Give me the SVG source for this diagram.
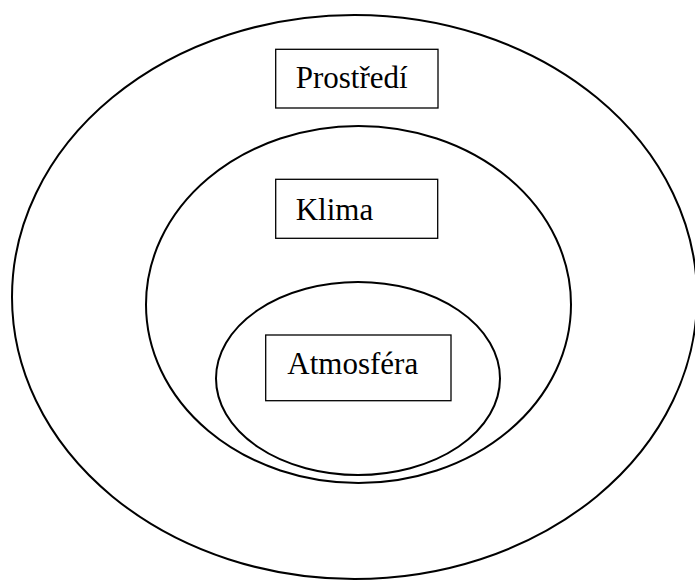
<svg xmlns="http://www.w3.org/2000/svg" width="695" height="581" viewBox="0 0 695 581">
<style>
.ring{fill:none;stroke:#000;stroke-width:2}
.box{fill:#fff;stroke:#000;stroke-width:1.3}
.lbl{font-family:"Liberation Serif","Times New Roman",serif;font-size:31px;fill:#000}
</style>
<rect width="695" height="581" fill="#fff"/>
<g id="outer"><ellipse class="ring" cx="354.5" cy="297" rx="342.5" ry="282"/></g>
<g id="middle"><ellipse class="ring" cx="358.5" cy="304.5" rx="212.5" ry="178.5"/></g>
<g id="inner"><ellipse class="ring" cx="358" cy="378.5" rx="142" ry="96.5"/></g>
<g id="prostredi"><rect class="box" x="275.7" y="49.3" width="162.3" height="58.7"/><text class="lbl" x="295.7" y="88">Prostředí</text></g>
<g id="klima"><rect class="box" x="275.7" y="179.3" width="162" height="59"/><text class="lbl" x="295.7" y="220">Klima</text></g>
<g id="atmosfera"><rect class="box" x="265.7" y="335" width="185.3" height="65.7"/><text class="lbl" x="287.3" y="374">Atmosféra</text></g>
<g id="connectors"/>
</svg>
